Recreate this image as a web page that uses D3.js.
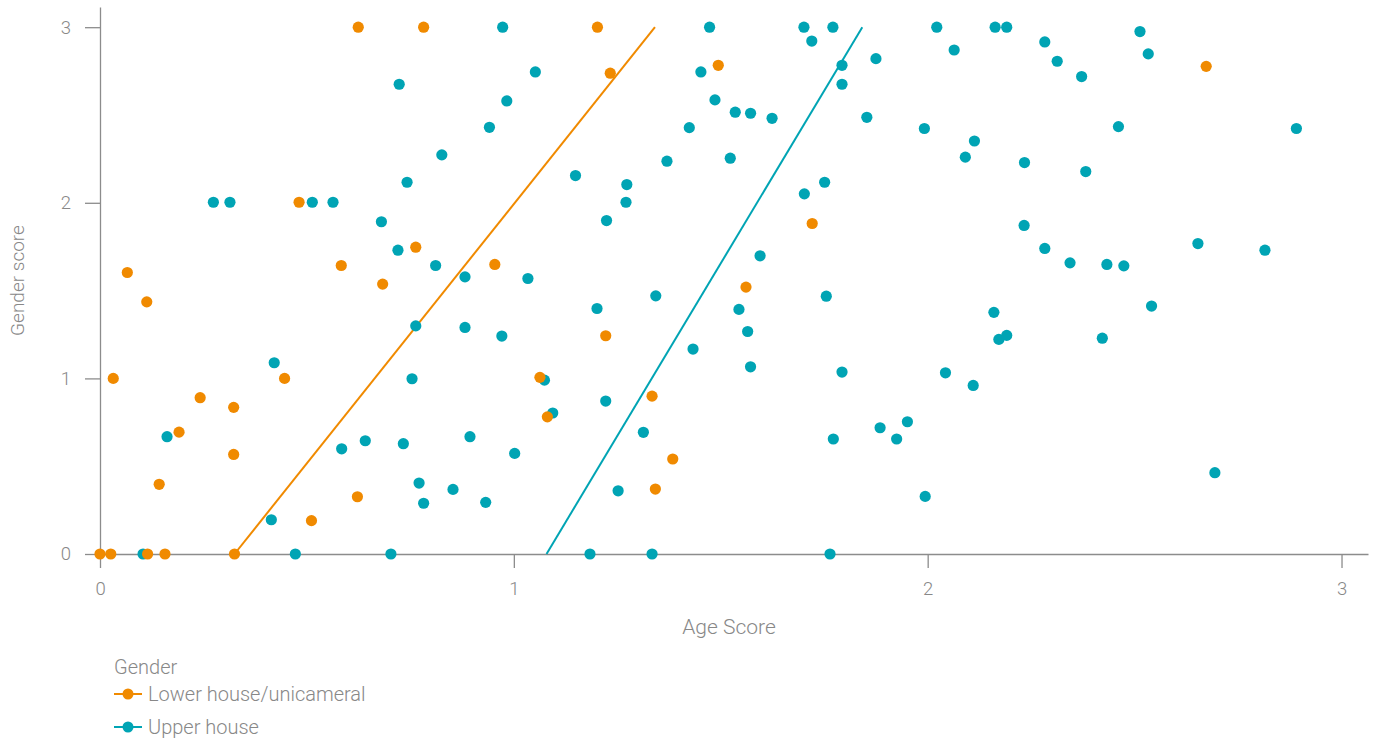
<!DOCTYPE html>
<html>
<head>
<meta charset="utf-8">
<script src="https://cdn.jsdelivr.net/npm/d3@7"></script>
<style>
  html, body { margin: 0; padding: 0; background: #fff; }
  svg { display: block; font-family: Roboto, "Helvetica Neue", Arial, sans-serif; font-weight: 300; }
</style>
</head>
<body>
<svg id="chart" width="1375" height="742"></svg>
<script>
// Age score (x) vs gender score (y) per chamber
const lowerHouse = [
  [0.000,0.000],[0.026,0.000],[0.032,1.000],[0.066,1.603],[0.113,1.436],[0.115,0.000],
  [0.157,0.000],[0.143,0.397],[0.191,0.694],[0.242,0.890],[0.323,0.835],[0.323,0.567],
  [0.325,0.000],[0.446,1.000],[0.481,2.003],[0.511,0.190],[0.583,1.643],[0.624,3.000],
  [0.622,0.326],[0.683,1.537],[0.763,1.747],[0.782,3.000],[0.954,1.649],[1.202,3.000],
  [1.233,2.738],[1.063,1.006],[1.081,0.781],[1.222,1.243],[1.334,0.899],[1.384,0.541],
  [1.342,0.370],[1.494,2.783],[1.561,1.520],[1.721,1.882],[2.673,2.777]
];

const upperHouse = [
  [0.274,2.003],[0.314,2.003],[0.513,2.003],[0.563,2.003],[0.723,2.675],[0.826,2.273],
  [0.742,2.117],[0.680,1.892],[0.720,1.730],[0.811,1.643],
  [0.104,0.000],[0.162,0.668],[0.421,1.089],[0.414,0.195],[0.472,0.000],[0.584,0.599],
  [0.641,0.645],[0.703,0.000],[0.733,0.628],[0.763,1.299],[0.754,0.998],[0.771,0.404],
  [0.782,0.289],[0.853,0.368],
  [0.973,3.000],[1.052,2.745],[0.983,2.580],[0.941,2.430],[1.149,2.155],[1.273,2.104],
  [1.271,2.003],[1.224,1.899],[1.370,2.237],[1.424,2.428],[1.473,3.000],[1.452,2.745],
  [1.486,2.586],[1.535,2.516],[1.572,2.510],[1.624,2.481],[1.523,2.254],[1.701,3.000],
  [1.771,3.000],[1.720,2.921],[1.793,2.783],[1.793,2.675],[1.875,2.821],[1.853,2.487],
  [1.751,2.117],[1.702,2.051],[1.595,1.698],[0.882,1.578],[1.034,1.569],[1.343,1.470],
  [1.755,1.468],
  [0.882,1.290],[0.971,1.241],[1.201,1.398],[1.544,1.393],[1.565,1.267],[1.433,1.167],
  [1.572,1.066],[1.793,1.036],[1.074,0.990],[1.094,0.803],[1.222,0.871],[1.313,0.693],
  [0.894,0.668],[1.002,0.573],[0.932,0.294],[1.252,0.360],[1.184,0.000],[1.334,0.000],
  [1.764,0.000],[1.885,0.719],[1.925,0.655],[1.951,0.753],[1.772,0.655],
  [2.022,3.000],[2.163,3.000],[2.191,3.000],[2.064,2.870],[2.283,2.916],[2.313,2.806],
  [2.372,2.719],[2.513,2.975],[2.533,2.848],[1.992,2.423],[2.113,2.352],[2.091,2.260],
  [2.234,2.229],[2.382,2.178],[2.461,2.434],[2.891,2.423],[2.233,1.871],[2.283,1.740],
  [2.344,1.658],[2.433,1.649],[2.474,1.641],[2.653,1.768],[2.815,1.730],
  [2.160,1.376],[2.541,1.412],[2.172,1.222],[2.191,1.245],[2.422,1.229],[2.043,1.032],
  [2.110,0.960],[1.994,0.328],[2.694,0.463]
];

// Fitted trend lines (endpoints in data units)
const lowerTrend = [[0.325,0],[1.341,3]];
const upperTrend = [[1.079,0],[1.842,3]];

const xTicks = [0, 1, 2, 3];
const yTicks = [0, 1, 2, 3];
const seriesNames = ["Lower house/unicameral", "Upper house"];
const seriesColors = ["#F08A00", "#00A4B4"];
const legendTitle = "Gender";
const xTitle = "Age Score";
const yTitle = "Gender score";

const svg = d3.select("#chart");
const margin = { top: 7, right: 7, bottom: 188, left: 100 };
const W = 1375, H = 742;

const x = d3.scaleLinear().domain([0, 3.064]).range([margin.left, W - margin.right]);
const y = d3.scaleLinear().domain([0, 3.115]).range([H - margin.bottom, margin.top]);

const axisColor = "#8c8c8c";
const textColor = "#888";

// Axes
const xAxis = svg.append("g")
  .attr("transform", `translate(0,${y(0)})`)
  .call(d3.axisBottom(x).tickValues(xTicks).tickFormat(d3.format("d")).tickSize(14).tickSizeOuter(0).tickPadding(14));
const yAxis = svg.append("g")
  .attr("transform", `translate(${x(0)},0)`)
  .call(d3.axisLeft(y).tickValues(yTicks).tickFormat(d3.format("d")).tickSize(15).tickSizeOuter(0).tickPadding(14));

[xAxis, yAxis].forEach(g => {
  g.selectAll("path.domain").attr("stroke", axisColor).attr("stroke-width", 1.3);
  g.selectAll(".tick line").attr("stroke", axisColor).attr("stroke-width", 1.3);
  g.selectAll(".tick text")
    .attr("fill", textColor)
    .style("font-family", "Roboto, sans-serif")
    .style("font-weight", 300)
    .style("font-size", "18.5px");
});

// Axis titles
svg.append("text")
  .attr("x", 729)
  .attr("y", 634)
  .attr("text-anchor", "middle")
  .attr("fill", textColor)
  .style("font-size", "21px")
  .text(xTitle);

svg.append("text")
  .attr("transform", `translate(24,${(y(0) + y(3.115)) / 2}) rotate(-90)`)
  .attr("text-anchor", "middle")
  .attr("fill", textColor)
  .style("font-size", "19px")
  .text(yTitle);

// Trend lines
const line = d3.line().x(d => x(d[0])).y(d => y(d[1]));
[lowerTrend, upperTrend].forEach((t, i) => {
  svg.append("path")
    .datum(t)
    .attr("d", line)
    .attr("fill", "none")
    .attr("stroke", seriesColors[i])
    .attr("stroke-width", 2);
});

// Points: upper house first, lower house on top
svg.append("g").selectAll("circle")
  .data(upperHouse)
  .join("circle")
  .attr("cx", d => x(d[0]))
  .attr("cy", d => y(d[1]))
  .attr("r", 5.6)
  .attr("fill", seriesColors[1]);

svg.append("g").selectAll("circle")
  .data(lowerHouse)
  .join("circle")
  .attr("cx", d => x(d[0]))
  .attr("cy", d => y(d[1]))
  .attr("r", 5.6)
  .attr("fill", seriesColors[0]);

// Legend
const legend = svg.append("g").attr("transform", "translate(114,0)");
legend.append("text")
  .attr("x", 0).attr("y", 674)
  .attr("fill", textColor)
  .style("font-size", "20px")
  .text(legendTitle);

seriesNames.forEach((name, i) => {
  const cy = 694 + i * 33;
  const item = legend.append("g").attr("transform", `translate(0,${cy})`);
  item.append("line")
    .attr("x1", 0).attr("x2", 28).attr("y1", 0).attr("y2", 0)
    .attr("stroke", seriesColors[i]).attr("stroke-width", 2);
  item.append("circle")
    .attr("cx", 14).attr("cy", 0).attr("r", 5.5)
    .attr("fill", seriesColors[i]);
  item.append("text")
    .attr("x", 34).attr("y", 0).attr("dy", "0.35em")
    .attr("fill", textColor)
    .style("font-size", "20px")
    .text(name);
});
</script>
</body>
</html>
